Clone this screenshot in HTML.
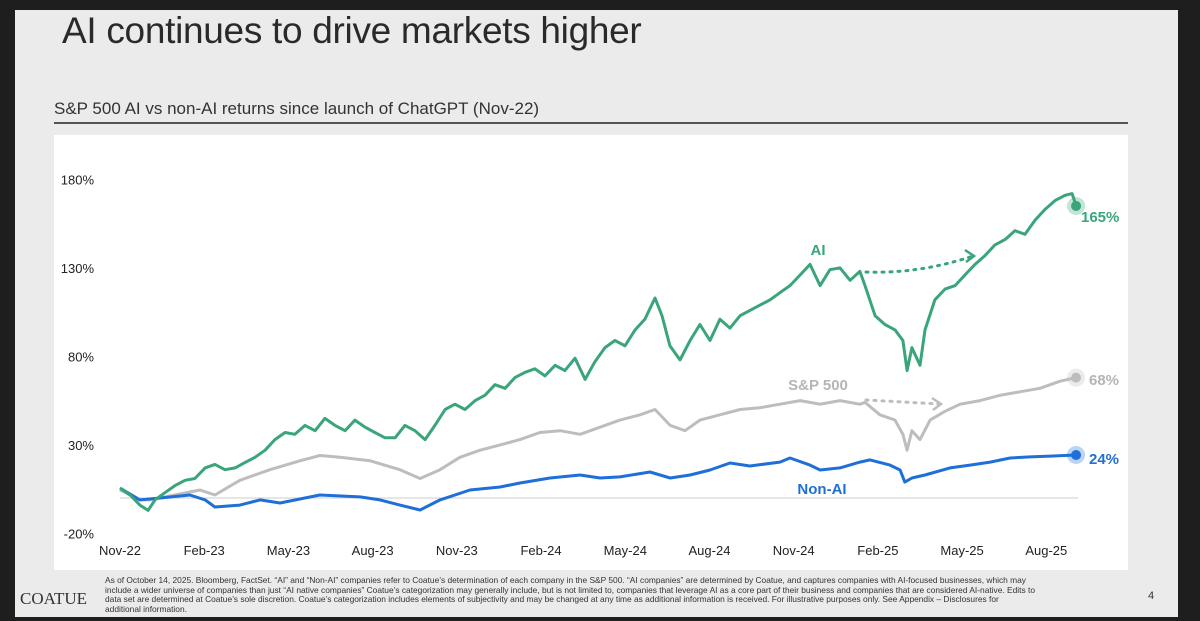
<!DOCTYPE html>
<html><head><meta charset="utf-8">
<style>
body{margin:0;background:#1e1e1e;width:1200px;height:621px;overflow:hidden;font-family:"Liberation Sans",Arial,sans-serif;}
#slide{position:absolute;left:15px;top:10px;width:1163px;height:607px;background:#ebebeb;}
#title{position:absolute;left:47px;top:0px;font-size:37px;color:#2a2a2a;font-weight:normal;letter-spacing:-0.3px;}
#sub{position:absolute;left:39px;top:89px;font-size:17px;color:#333;}
#rule{position:absolute;left:39px;top:112px;width:1074px;height:2px;background:#555;}
#panel{position:absolute;left:39px;top:125px;width:1074px;height:435px;background:#fff;}
#foot{position:absolute;left:90px;top:566px;width:930px;font-size:8.4px;line-height:9.6px;color:#333;}
#logo{position:absolute;left:5px;top:579px;font-size:17px;color:#333;font-family:"Liberation Serif",serif;}
#pg{position:absolute;left:1133px;top:580px;font-size:11px;color:#333;}
svg{position:absolute;left:0;top:0;}
</style></head><body>
<div id="slide">
<div id="title">AI continues to drive markets higher</div>
<div id="sub">S&amp;P 500 AI vs non-AI returns since launch of ChatGPT (Nov-22)</div>
<div id="rule"></div>
<div id="panel"></div>
<div id="logo">COATUE</div>
<div id="foot">As of October 14, 2025. Bloomberg, FactSet. “AI” and “Non-AI” companies refer to Coatue’s determination of each company in the S&amp;P 500. “AI companies” are determined by Coatue, and captures companies with AI-focused businesses, which may include a wider universe of companies than just “AI native companies” Coatue’s categorization may generally include, but is not limited to, companies that leverage AI as a core part of their business and companies that are considered AI-native. Edits to data set are determined at Coatue’s sole discretion. Coatue’s categorization includes elements of subjectivity and may be changed at any time as additional information is received. For illustrative purposes only. See Appendix – Disclosures for additional information.</div>
<div id="pg">4</div>
</div>
<svg id="chart" width="1200" height="621"></svg>
<script>
const yTicks=[180,130,80,30,-20];
const xTickLabels=["Nov-22","Feb-23","May-23","Aug-23","Nov-23","Feb-24","May-24","Aug-24","Nov-24","Feb-25","May-25","Aug-25"];
const aiT=[0,.36,.71,1.0,1.25,1.6,1.96,2.32,2.67,3.03,3.38,3.74,4.1,4.45,4.81,5.17,5.52,5.88,6.23,6.59,6.95,7.3,7.66,8.02,8.37,8.73,9.08,9.44,9.8,10.15,10.51,10.87,11.22,11.58,11.93,12.29,12.65,13.0,13.36,13.72,14.07,14.43,14.78,15.14,15.5,15.85,16.21,16.57,16.92,17.28,17.63,17.99,18.35,18.7,19.06,19.31,19.59,19.95,20.31,20.66,21.02,21.37,21.73,22.09,22.44,22.8,23.16,23.51,23.87,24.23,24.58,24.94,25.29,25.65,26.01,26.36,26.54,26.9,27.25,27.61,27.89,28.04,28.21,28.5,28.68,29.03,29.39,29.75,30.1,30.46,30.82,31.17,31.53,31.88,32.24,32.6,32.95,33.31,33.67,33.92,34.06];
const aiV=[5.6,1.7,-4,-7,-1,3,7,10,11,17,19,16,17,20,23,27,33,37,36,41,38,45,41,38,44,40,37,34,34,41,38,33,41,50,53,50,55,58,64,62,68,71,73,69,75,72,79,67,77,85,89,86,95,101,113,103,86,78,89,98,89,101,96,103,106,109,112,116,120,126,132,120,129,130,123,128,120,103,98,95,89,72,85,75,95,112,118,120,126,132,137,143,146,151,149,157,163,168,171,172,165];
const spT=[0,.71,1.07,2.85,3.38,4.27,5.34,6.41,7.12,7.84,8.91,9.97,10.69,11.4,12.11,12.83,13.54,14.25,14.96,15.68,16.39,17.1,17.81,18.53,19.06,19.6,20.13,20.66,21.37,22.09,22.8,23.51,24.23,24.94,25.65,26.36,26.54,27.07,27.61,27.89,28.04,28.21,28.5,28.86,29.39,29.93,30.64,31.35,32.06,32.77,33.49,34.06];
const spV=[4.5,-1.1,-1.1,4.5,1.7,10,16,21,24,23,21,16,11,16,23,27,30,33,37,38,36,40,44,47,50,41,38,44,47,50,51,53,55,53,55,53,54,47,44,36,27,38,33,44,49,53,55,58,60,62,66,68];
const naT=[0,.71,1.43,2.49,3.03,3.38,4.27,4.99,5.7,7.12,8.55,9.26,9.97,10.69,11.4,12.47,13.54,14.25,15.32,16.39,17.1,17.81,18.88,19.6,20.31,21.02,21.73,22.44,23.51,23.87,24.58,24.94,25.65,26.36,26.72,27.43,27.79,27.96,28.21,28.68,29.57,30.28,31.0,31.71,32.42,33.13,34.06];
const naV=[5.6,-1.1,0,1.7,-1.1,-5.1,-4,-1.1,-2.8,1.7,.6,-1.1,-4,-6.8,-1.1,4.5,6.2,8.5,11.3,13,11.3,11.9,14.7,11.3,13,15.8,19.8,18.1,20.3,22.6,18.6,15.8,17,20.3,21.5,18.6,15.8,9,11.3,13,17,18.6,20.3,22.6,23.2,23.7,24.3];
const endLabels=["165%","68%","24%"];

const NS="http://www.w3.org/2000/svg";
const svg=document.getElementById('chart');
const X=m=>120+m*28.07;
const Y=v=>498-v*1.77;
function mk(tag,attrs,parent){const e=document.createElementNS(NS,tag);for(const k in attrs)e.setAttribute(k,attrs[k]);(parent||svg).appendChild(e);return e;}
const bl=mk('line',{x1:X(0),x2:1078,y1:Y(0),y2:Y(0),stroke:'#d8d8d8','stroke-width':1.2});


yTicks.forEach(v=>{
  const t=mk('text',{x:94,y:Y(v)+5,'text-anchor':'end','font-size':13,fill:'#222','font-family':'Liberation Sans, sans-serif'});
  t.textContent=v+'%';
  
  
});
xTickLabels.forEach((l,i)=>{
  const t=mk('text',{x:X(i*3),y:555,'text-anchor':'middle','font-size':13,fill:'#222','font-family':'Liberation Sans, sans-serif'});
  t.textContent=l;
  
  
});
function series(T,V,color,name){
  const d=T.map((t,i)=>(i?'L':'M')+X(t).toFixed(1)+','+Y(V[i]).toFixed(1)).join('');
  const p=mk('path',{d:d,fill:'none',stroke:color,'stroke-width':3,'stroke-linejoin':'round'});
  
  
  const lx=X(T[T.length-1]),ly=Y(V[V.length-1]);
  const h=mk('circle',{cx:lx,cy:ly,r:9,fill:color,'fill-opacity':0.3});
  
  
  const c=mk('circle',{cx:lx,cy:ly,r:5,fill:color});
  
  
}
series(spT,spV,'#bdbdbd','sp500-line');
series(naT,naV,'#1f6fd8','non-ai-line');
series(aiT,aiV,'#3aa57a','ai-line');
function arrow(x1,y1,x2,y2,color,name){
  const p=mk('path',{d:`M${x1},${y1} Q${(x1+x2)/2},${y1+2} ${x2},${y2}`,fill:'none',stroke:color,'stroke-width':3,'stroke-dasharray':'2 6','stroke-linecap':'round'});
  
  
  const h=mk('path',{d:`M${x2-8},${y2-6} L${x2+1},${y2} L${x2-7},${y2+6}`,fill:'none',stroke:color,'stroke-width':2.5});
  
  
}
arrow(866,272,973,256,'#3aa57a','ai-recovery-arrow');
arrow(866,400,940,404,'#bdbdbd','sp500-recovery-arrow');
function lab(x,y,txt,color,name,anchor){
  const t=mk('text',{x:x,y:y,'font-size':15,'font-weight':'bold',fill:color,'text-anchor':anchor||'start','font-family':'Liberation Sans, sans-serif'});
  t.textContent=txt;
  
  
}
lab(818,255,'AI','#3aa57a','ai-series-label','middle');
lab(818,390,'S&P 500','#b5b5b5','sp500-series-label','middle');
lab(822,494,'Non-AI','#1f6fd8','non-ai-series-label','middle');
lab(1081,222,endLabels[0],'#3aa57a','ai-end-value');
lab(1089,385,endLabels[1],'#b5b5b5','sp500-end-value');
lab(1089,464,endLabels[2],'#1f6fd8','non-ai-end-value');
</script>
</body></html>
